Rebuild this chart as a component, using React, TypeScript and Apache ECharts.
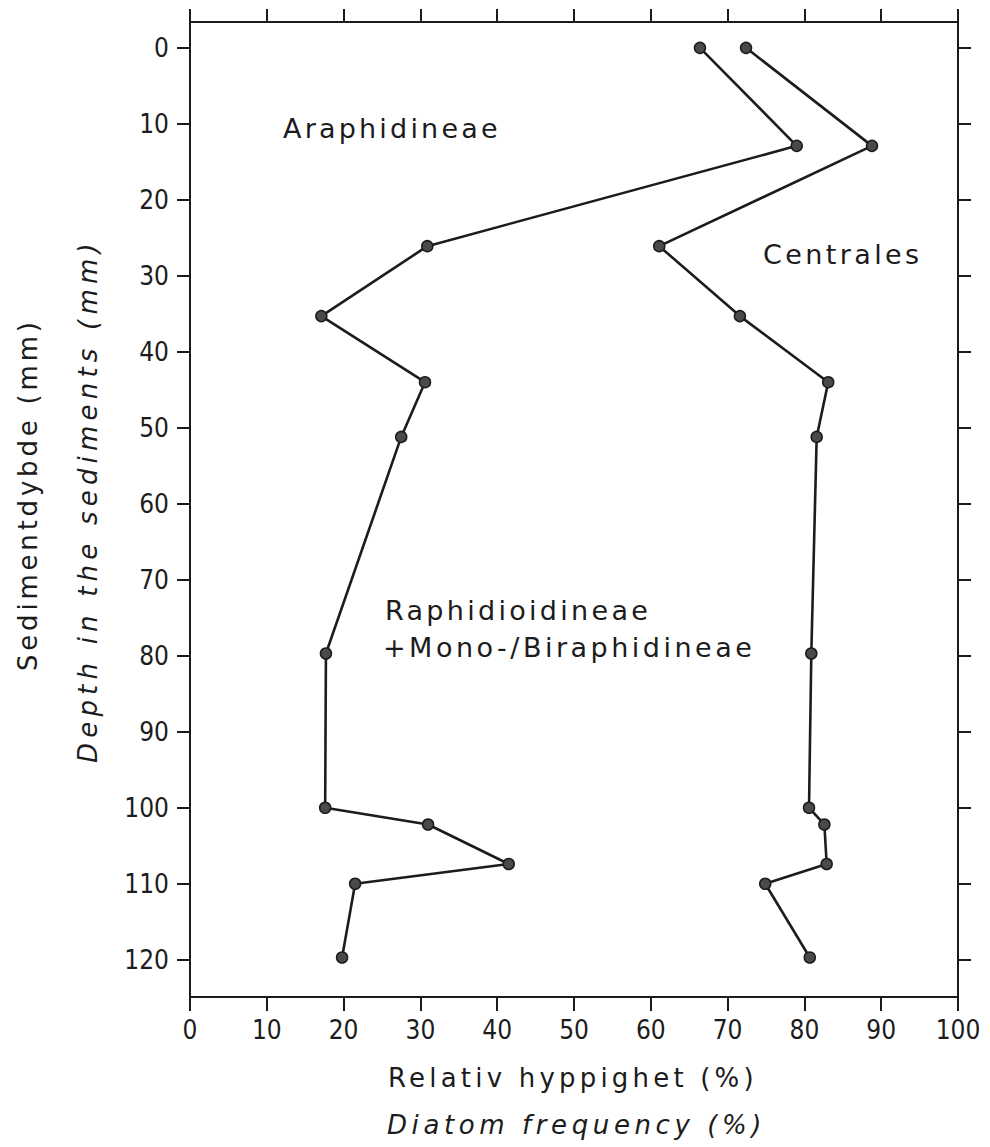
import React, { useEffect, useRef } from "react";
import * as echarts from "echarts";

// Sample depths (mm) shared by both boundary curves
const depths = [0, 12.9, 26.1, 35.3, 44.0, 51.2, 79.7, 100.0, 102.2, 107.4, 110.0, 119.7];
// Cumulative frequency (%) at the Araphidineae / Raphidineae boundary (left curve)
const araphidBoundary = [66.4, 79.0, 30.9, 17.1, 30.6, 27.5, 17.7, 17.6, 31.0, 41.5, 21.5, 19.8];
// Cumulative frequency (%) at the Centrales boundary (right curve)
const centralesBoundary = [72.4, 88.8, 61.1, 71.6, 83.1, 81.6, 80.9, 80.6, 82.6, 82.9, 74.9, 80.7];

const depthTicks = [0, 10, 20, 30, 40, 50, 60, 70, 80, 90, 100, 110, 120];
const freqMin = 0;
const freqMax = 100;
const freqStep = 10;
const depthMin = -3.4;
const depthMax = 124.9;

const groupLabels = ["Araphidineae", "Centrales", "Raphidioidineae", "+Mono-/Biraphidineae"];
const yTitles = ["Sedimentdybde (mm)", "Depth in the sediments (mm)"];
const xTitles = ["Relativ hyppighet (%)", "Diatom frequency (%)"];

const letterSpacing: Record<string, number> = {
  Araphidineae: 3.2,
  Centrales: 3.4,
  Raphidioidineae: 3.3,
  "+Mono-/Biraphidineae": 3.5,
  "Sedimentdybde (mm)": 3.8,
  "Depth in the sediments (mm)": 5.2,
  "Relativ hyppighet (%)": 4.2,
  "Diatom frequency (%)": 4.6,
};

const INK = "#1c1c1c";
const TEXT_FONT = "'DejaVu Sans', sans-serif";
const TICK_FONT = "'Liberation Sans Narrow', 'DejaVu Sans Condensed', 'DejaVu Sans', sans-serif";

export default function App() {
  const ref = useRef<HTMLDivElement>(null);

  useEffect(() => {
    if (!ref.current) return;
    const chart = echarts.init(ref.current, undefined, { renderer: "svg" });

    const axisLine = { show: true, onZero: false, lineStyle: { color: INK, width: 2 } };
    const tickLabel = { color: INK, fontSize: 26, fontFamily: TICK_FONT };

    const textEl = (text: string, x: number, y: number, opts: any = {}) => ({
      type: "text",
      x,
      y,
      rotation: opts.rotation || 0,
      silent: true,
      style: {
        text,
        fill: INK,
        fontSize: opts.fontSize || 27,
        fontFamily: TEXT_FONT,
        fontStyle: opts.italic ? "italic" : "normal",
        textAlign: "left",
        align: "left",
        textVerticalAlign: "middle",
        verticalAlign: "middle",
      },
    });

    const option: any = {
      animation: false,
      backgroundColor: "#ffffff",
      grid: { left: 190, right: 32, top: 22, bottom: 150, containLabel: false },
      xAxis: [
        {
          type: "value",
          position: "bottom",
          min: freqMin,
          max: freqMax,
          interval: freqStep,
          axisLine,
          axisTick: { show: true, inside: false, length: 14, lineStyle: { color: INK, width: 2 } },
          axisLabel: { ...tickLabel, margin: 20 },
          splitLine: { show: false },
        },
        {
          type: "value",
          position: "top",
          min: freqMin,
          max: freqMax,
          interval: freqStep,
          axisLine,
          axisTick: { show: true, inside: false, length: 13, lineStyle: { color: INK, width: 2 } },
          axisLabel: { show: false },
          splitLine: { show: false },
        },
      ],
      yAxis: [
        {
          type: "value",
          position: "left",
          inverse: true,
          min: depthMin,
          max: depthMax,
          axisLine,
          axisTick: {
            show: true,
            inside: false,
            length: 13,
            customValues: depthTicks,
            lineStyle: { color: INK, width: 2 },
          },
          axisLabel: { ...tickLabel, margin: 21, customValues: depthTicks },
          splitLine: { show: false },
        },
        {
          type: "value",
          position: "right",
          inverse: true,
          min: depthMin,
          max: depthMax,
          axisLine,
          axisTick: {
            show: true,
            inside: false,
            length: 13,
            customValues: depthTicks,
            lineStyle: { color: INK, width: 2 },
          },
          axisLabel: { show: false },
          splitLine: { show: false },
        },
      ],
      series: [
        {
          name: "Araphidineae boundary",
          type: "line",
          xAxisIndex: 0,
          yAxisIndex: 0,
          data: depths.map((d, i) => [araphidBoundary[i], d]),
          symbol: "circle",
          symbolSize: 11,
          itemStyle: { color: "#4a4a4a", borderColor: INK, borderWidth: 1.5 },
          lineStyle: { color: INK, width: 2.6 },
        },
        {
          name: "Centrales boundary",
          type: "line",
          xAxisIndex: 0,
          yAxisIndex: 0,
          data: depths.map((d, i) => [centralesBoundary[i], d]),
          symbol: "circle",
          symbolSize: 11,
          itemStyle: { color: "#4a4a4a", borderColor: INK, borderWidth: 1.5 },
          lineStyle: { color: INK, width: 2.6 },
        },
      ],
      graphic: [
        textEl(groupLabels[0], 283, 128),
        textEl(groupLabels[1], 763, 254),
        textEl(groupLabels[2], 385, 610),
        textEl(groupLabels[3], 383, 647),
        textEl(yTitles[0], 28, 671, { rotation: Math.PI / 2, fontSize: 26 }),
        textEl(yTitles[1], 88, 763, { rotation: Math.PI / 2, fontSize: 26, italic: true }),
        textEl(xTitles[0], 388, 1078, { fontSize: 26 }),
        textEl(xTitles[1], 387, 1125, { fontSize: 26, italic: true }),
      ],
    };

    chart.setOption(option);

    const applySpacing = () => {
      const root = ref.current;
      if (!root) return;
      root.querySelectorAll("text").forEach((t) => {
        const s = letterSpacing[(t.textContent || "").trim()];
        if (s !== undefined) {
          t.setAttribute("letter-spacing", String(s));
          (t as any).style.letterSpacing = s + "px";
        }
      });
    };
    applySpacing();
    chart.on("finished", applySpacing);
    const timer = setTimeout(applySpacing, 50);

    return () => {
      clearTimeout(timer);
      chart.dispose();
    };
  }, []);

  return (
    <div
      ref={ref}
      style={{ position: "absolute", left: 0, top: 0, width: 990, height: 1147, background: "#fff" }}
    />
  );
}
